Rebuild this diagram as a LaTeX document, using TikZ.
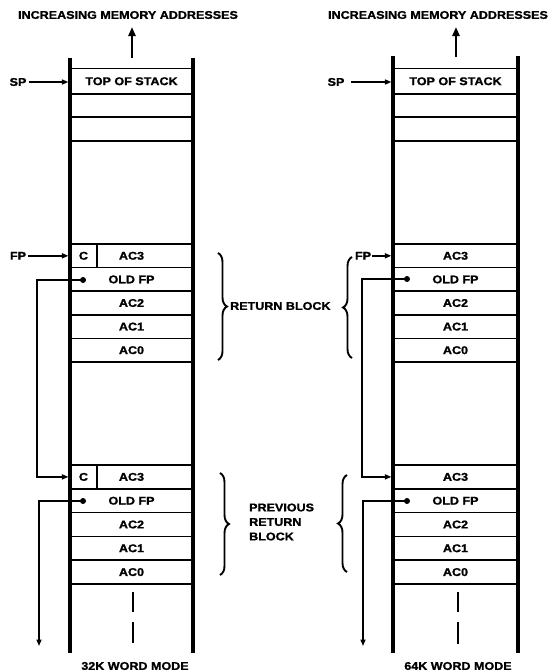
\documentclass[tikz,border=0pt]{standalone}
\usepackage{fontspec}
\setmainfont{Liberation Sans}[FakeStretch=1.12,FakeBold=1.3]
\usetikzlibrary{arrows.meta,decorations.pathreplacing}
\tikzset{
  lbl/.style={font=\bfseries\fontsize{11.2}{12}\selectfont, inner sep=0pt},
  cell/.style={lbl, draw, line width=1.6pt, inner sep=0pt, outer sep=0pt, minimum height=23.6pt},
  lcell/.style={cell, minimum width=123pt},
  rcell/.style={cell, minimum width=125pt},
  wall/.style={line width=3.2pt},
  conn/.style={line width=1.5pt},
  tip/.style={-{Triangle[length=6.5pt,width=5pt]}},
  bigtip/.style={line width=2.4pt,-{Triangle[length=9pt,width=7pt]}},
  dot/.style={circle, fill, inner sep=0pt, minimum size=6pt},
  dashln/.style={line width=2.2pt},
  brc/.style={decorate, decoration={brace, amplitude=9pt}, line width=1.9pt}
}
\begin{document}
\begin{tikzpicture}[x=1pt,y=-1pt]
\useasboundingbox (0,0) rectangle (556,672);

% ---------------- LEFT STACK (32K) ----------------
\node[lbl] (Ltitle) at (128,15) {INCREASING MEMORY ADDRESSES};
\node[lcell, minimum height=25.5pt] (Ltos) at (131.5,81.25) {TOP OF STACK};
\node[lcell, minimum height=23pt] (Le1) at (131.5,105.5) {};
\node[lcell, minimum height=24pt] (Le2) at (131.5,129) {};
\node[lcell] (Lac3a) at (131.5,255.8) {AC3};
\node[cell, minimum width=27pt, anchor=west] (LCa) at (70,255.8) {C};
\node[lcell] (Lofpa) at (131.5,279.4) {OLD FP};
\node[lcell] (Lac2a) at (131.5,303) {AC2};
\node[lcell] (Lac1a) at (131.5,326.6) {AC1};
\node[lcell] (Lac0a) at (131.5,350.2) {AC0};
\node[lcell, minimum height=23.8pt] (Lac3b) at (131.5,476.9) {AC3};
\node[cell, minimum height=23.8pt, minimum width=27pt, anchor=west] (LCb) at (70,476.9) {C};
\node[lcell, minimum height=23.8pt] (Lofpb) at (131.5,500.7) {OLD FP};
\node[lcell, minimum height=23.8pt] (Lac2b) at (131.5,524.5) {AC2};
\node[lcell, minimum height=23.8pt] (Lac1b) at (131.5,548.3) {AC1};
\node[lcell, minimum height=23.8pt] (Lac0b) at (131.5,572.1) {AC0};
\draw[wall] (70,58) -- (70,653);
\draw[wall] (193,58) -- (193,653);
\coordinate (Lup0) at (132,58);
\coordinate (Lup1) at (132,27);
\draw[bigtip] (Lup0) -- (Lup1);
\node[lbl] (LSP) at (18,82) {SP};
\draw[conn,tip,shorten >=1.6pt] (LSP.east) ++(2,0) -- (Ltos.west |- LSP.east);
\node[lbl] (LFP) at (18,255.8) {FP};
\draw[conn,tip,shorten >=1.6pt] (LFP.east) ++(2,0) -- (LCa.west);
\node[dot] (Ld1) at (83,280) {};
\coordinate (Lbus1) at (37,280);
\draw[conn,tip,shorten >=1.6pt] (Ld1.center) -- (Lbus1) |- (LCb.west);
\node[dot] (Ld2) at (83,501) {};
\coordinate (Lend) at (39,646);
\draw[conn,tip] (Ld2.center) -| (Lend);
\coordinate (Lda) at (133,592); \coordinate (Ldb) at (133,612);
\coordinate (Ldc) at (133,622); \coordinate (Ldd) at (133,643);
\draw[dashln] (Lda) -- (Ldb) (Ldc) -- (Ldd);
\node[lbl] (Lmode) at (135,666) {32K WORD MODE};

% ---------------- RIGHT STACK (64K) ----------------
\node[lbl] (Rtitle) at (438,15) {INCREASING MEMORY ADDRESSES};
\node[rcell, minimum height=25.5pt] (Rtos) at (455.5,81.25) {TOP OF STACK};
\node[rcell, minimum height=23pt] (Re1) at (455.5,105.5) {};
\node[rcell, minimum height=24pt] (Re2) at (455.5,129) {};
\node[rcell] (Rac3a) at (455.5,255.8) {AC3};
\node[rcell] (Rofpa) at (455.5,279.4) {OLD FP};
\node[rcell] (Rac2a) at (455.5,303) {AC2};
\node[rcell] (Rac1a) at (455.5,326.6) {AC1};
\node[rcell] (Rac0a) at (455.5,350.2) {AC0};
\node[rcell, minimum height=23.8pt] (Rac3b) at (455.5,476.9) {AC3};
\node[rcell, minimum height=23.8pt] (Rofpb) at (455.5,500.7) {OLD FP};
\node[rcell, minimum height=23.8pt] (Rac2b) at (455.5,524.5) {AC2};
\node[rcell, minimum height=23.8pt] (Rac1b) at (455.5,548.3) {AC1};
\node[rcell, minimum height=23.8pt] (Rac0b) at (455.5,572.1) {AC0};
\draw[wall] (393,56) -- (393,653);
\draw[wall] (518,56) -- (518,653);
\coordinate (Rup0) at (456,57);
\coordinate (Rup1) at (456,27);
\draw[bigtip] (Rup0) -- (Rup1);
\node[lbl] (RSP) at (336,82) {SP};
\draw[conn,tip,shorten >=1.6pt] (RSP.east) ++(6,0) -- (Rtos.west |- RSP.east);
\node[lbl] (RFP) at (363,255.8) {FP};
\draw[conn,tip,shorten >=1.6pt] (RFP.east) ++(1,0) -- (Rac3a.west);
\node[dot] (Rd1) at (407,279) {};
\coordinate (Rbus1) at (362,279);
\draw[conn,tip,shorten >=1.6pt] (Rd1.center) -- (Rbus1) |- (Rac3b.west);
\node[dot] (Rd2) at (407,501) {};
\coordinate (Rend) at (363,646);
\draw[conn,tip] (Rd2.center) -| (Rend);
\coordinate (Rda) at (458,592); \coordinate (Rdb) at (458,612);
\coordinate (Rdc) at (458,622); \coordinate (Rdd) at (458,644);
\draw[dashln] (Rda) -- (Rdb) (Rdc) -- (Rdd);
\node[lbl] (Rmode) at (458,666) {64K WORD MODE};

% ---------------- BRACES AND LABELS ----------------
\coordinate (B1a) at (218,253); \coordinate (B1b) at (218,360);
\draw[brc] (B1a) -- (B1b);
\coordinate (B2a) at (352,358); \coordinate (B2b) at (352,257);
\draw[brc] (B2a) -- (B2b);
\node[lbl, anchor=west] (RB) at (230,306) {RETURN BLOCK};
\coordinate (B3a) at (220,473); \coordinate (B3b) at (220,575);
\draw[brc] (B3a) -- (B3b);
\coordinate (B4a) at (347,572); \coordinate (B4b) at (347,475);
\draw[brc] (B4a) -- (B4b);
\node[lbl, anchor=west, align=left, font=\bfseries\fontsize{11.2}{14.5}\selectfont] (PRB) at (249,522) {PREVIOUS\\RETURN\\BLOCK};
\end{tikzpicture}
\end{document}
